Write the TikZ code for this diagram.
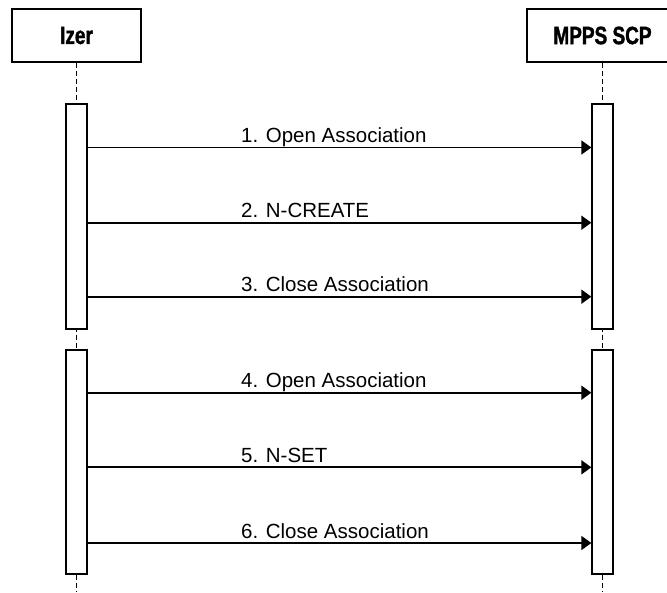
\documentclass[tikz,border=0pt]{standalone}
\usepackage{fontspec}
\setmainfont{Liberation Sans}
\newfontfamily\headfont{Liberation Sans Bold}[FakeStretch=0.76, FakeBold=1.5]
\usetikzlibrary{arrows.meta}

\begin{document}
\begin{tikzpicture}[x=1pt,y=-1pt]
  % canvas of the reference
  \useasboundingbox (0,0) rectangle (667,592);
  \clip (0,0) rectangle (667,592);
  % Define styles
  \tikzset{head/.style={draw, line width=1.3pt, fill=white, minimum height=53pt, inner sep=0pt, font=\headfont\fontsize{25}{27}\selectfont}}
  \tikzset{bar/.style={draw, line width=1.3pt, fill=white, minimum width=21pt, inner sep=0pt}}
  \tikzset{life/.style={line width=1.3pt, dash pattern=on 5pt off 3pt}}
  \tikzset{msg/.style={line width=1.7pt, -{Triangle[length=10pt,width=14pt]}}}
  \tikzset{lbl/.style={anchor=base west, inner sep=0pt, font=\fontsize{20.5}{22}\selectfont}}
  % Lifeline heads
  \node[head, minimum width=129pt] (izer) at (76.5,35.5) {Izer};
  \node[head, minimum width=151pt] (mpps) at (602.5,35.5) {MPPS SCP};
  % Dashed lifelines (behind the bars)
  \coordinate (izend) at (76.5,592);
  \coordinate (mpend) at (602.5,592);
  \draw[life] (izer.south) -- (izend);
  \draw[life] (mpps.south) -- (mpend);
  % Activation bars
  \node[bar, minimum height=225pt] (izA) at (76.5,216.5) {};
  \node[bar, minimum height=224pt] (izB) at (76.5,462) {};
  \node[bar, minimum height=225pt] (mpA) at (602.5,216.5) {};
  \node[bar, minimum height=224pt] (mpB) at (602.5,462) {};
  % Messages
  \foreach \i/\y/\b/\txt in {1/147.5/A/1. Open Association,
                              2/222.7/A/2. N-CREATE,
                              3/296.7/A/3. Close Association,
                              4/392.7/B/4. Open Association,
                              5/467.3/B/5. N-SET,
                              6/543/B/6. Close Association}{
    \coordinate (m\i) at (241,\y);
    \draw[msg] (iz\b.east |- m\i) -- (mp\b.west |- m\i);
    \node[lbl, yshift=5pt] (t\i) at (m\i) {\txt};
  }
\end{tikzpicture}
\end{document}
